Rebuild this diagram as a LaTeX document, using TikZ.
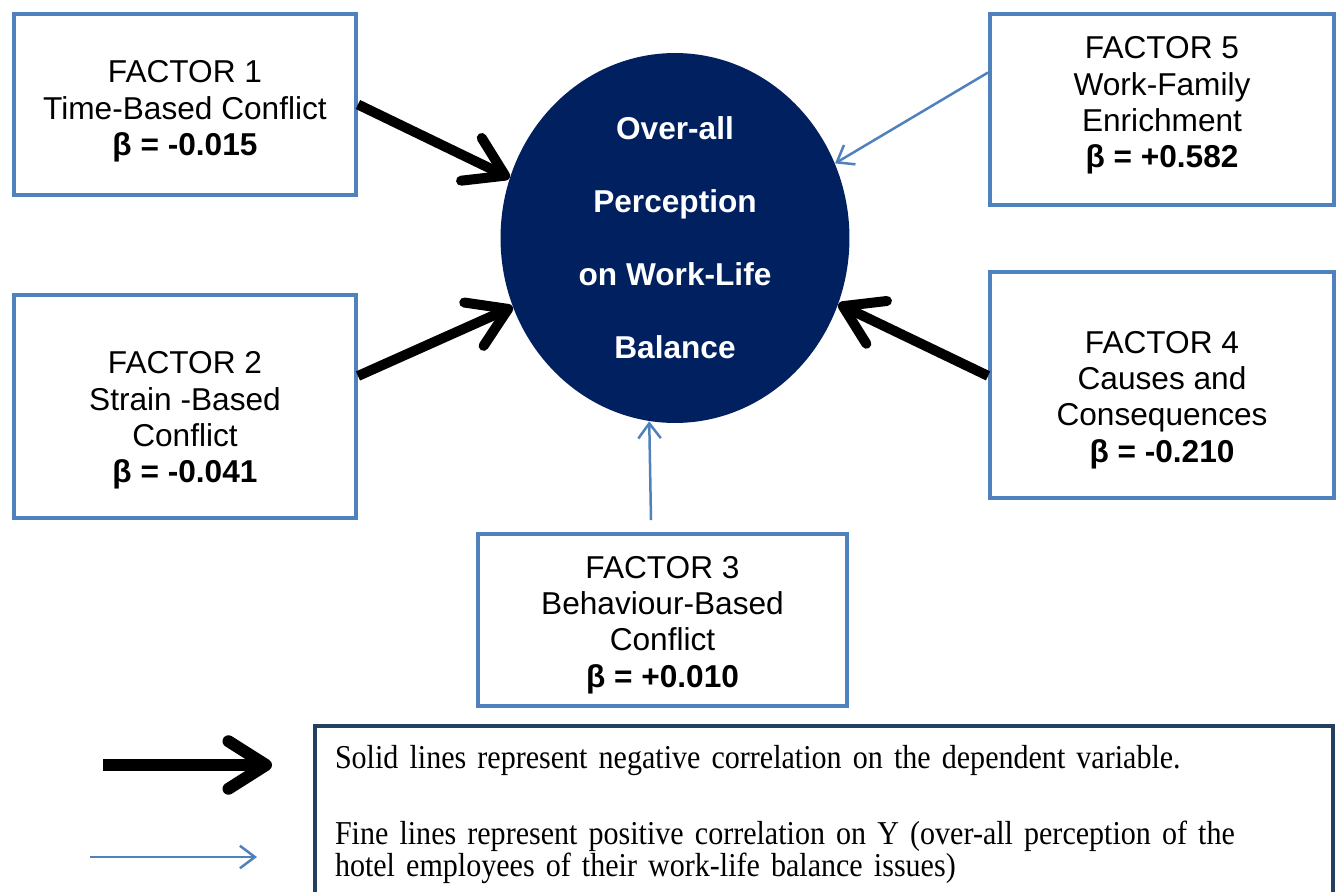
\documentclass[tikz,border=0pt]{standalone}
\usepackage{fontspec}
\setmainfont{Liberation Sans}
\newfontfamily\legendfont{Liberation Serif}[FakeStretch=0.9,WordSpace=0.75]
\usetikzlibrary{positioning,calc,shapes.geometric,arrows.meta}
\definecolor{boxblue}{HTML}{4F81BD}
\definecolor{navy}{HTML}{002060}
\definecolor{legendline}{HTML}{243F60}
\tikzset{
factor/.style = {draw=boxblue, line width=0.08cm, fill=white, rectangle},
factortext/.style = {align=center, inner sep=0pt, font=\fontsize{18}{20.7}\selectfont},
target/.style = {fill=navy, ellipse, minimum width=6.98cm, minimum height=7.4cm, align=center, text=white, font=\fontsize{18}{41.5}\selectfont\bfseries},
negarrow/.style = {line width=0.2cm, -{Straight Barb[length=0.75cm,width=0.95cm,round]}},
posarrow/.style = {draw=boxblue, line width=0.05cm, -{Straight Barb[length=0.3cm,width=0.45cm]}},
legendbox/.style = {draw=legendline, line width=0.08cm, rectangle, align=left, inner xsep=0.4cm, inner ysep=0.38cm, text width=19.56cm, font=\legendfont\fontsize{19}{18.5}\selectfont}
}
\begin{document}
\begin{tikzpicture}[x=0.02cm, y=-0.02cm, >=latex]
    \useasboundingbox (0,0) rectangle (1342,892);
    \clip (0,0) rectangle (1342,892);

    \node [target] (ybox) at (675,238) {Over-all\\Perception\\on Work-Life\\Balance};

    \node [factor, minimum width=6.84cm, minimum height=3.62cm] (f1) at (185,104.5) {};
    \node [factortext] (t1) at ($(f1)+(0,7)$)
      {FACTOR 1\\Time-Based Conflict\\\textbf{β = -0.015}};
    \node [factor, minimum width=6.84cm, minimum height=4.46cm] (f2) at (185,406.5) {};
    \node [factortext] (t2) at ($(f2)+(0,14)$)
      {FACTOR 2\\Strain -Based\\Conflict\\\textbf{β = -0.041}};
    \node [factor, minimum width=7.38cm, minimum height=3.44cm] (f3) at (662.5,620) {};
    \node [factortext] (t3) at ($(f3)+(0,5)$)
      {FACTOR 3\\Behaviour-Based\\Conflict\\\textbf{β = +0.010}};
    \node [factor, minimum width=6.88cm, minimum height=4.52cm] (f4) at (1162,385) {};
    \node [factortext] (t4) at ($(f4)+(0,15)$)
      {FACTOR 4\\Causes and\\Consequences\\\textbf{β = -0.210}};
    \node [factor, minimum width=6.88cm, minimum height=3.82cm] (f5) at (1162,109.5) {};
    \node [factortext] (t5) at ($(f5)+(0,-4)$)
      {FACTOR 5\\Work-Family\\Enrichment\\\textbf{β = +0.582}};

    \draw[negarrow] (f1.east) -- (ybox.160);
    \draw[negarrow] (f2.10) -- (ybox.203);
    \draw[negarrow] (f4.177) -- (ybox.338);
    \draw[posarrow] (f5.168) -- (ybox.25);
    \draw[posarrow] ($(f3.north)+(-11.5,-12)$) -- (ybox.262);

    % legend
    \node [legendbox, anchor=north west] (legend) at (313,724)
      {Solid lines represent negative correlation on the dependent variable.\\[0.87cm]
       Fine lines represent positive correlation on Y (over-all perception of the\\
       hotel employees of their work-life balance issues)\\\mbox{}};
    \coordinate (negstart) at (103,765);
    \coordinate (negend) at (272,765);
    \coordinate (posstart) at (90,857);
    \coordinate (posend) at (257,857);
    \draw[negarrow, line width=0.24cm] (negstart) -- (negend);
    \draw[posarrow] (posstart) -- (posend);

  \end{tikzpicture}
\end{document}
